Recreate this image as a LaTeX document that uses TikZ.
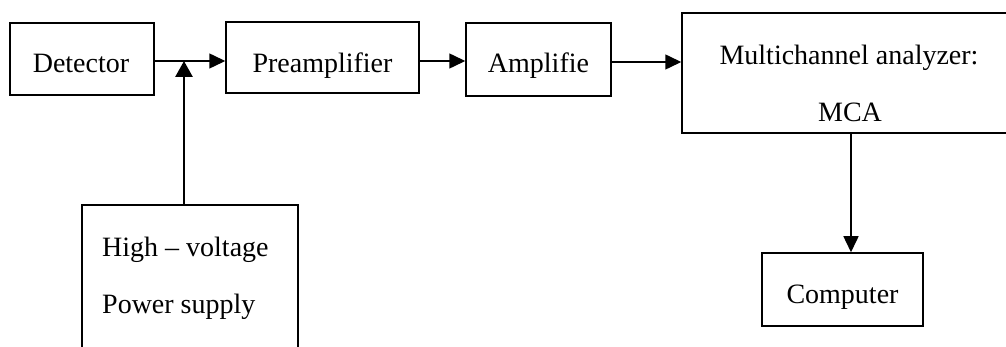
\documentclass[tikz,border=0pt]{standalone}
\usepackage{fontspec}
\setmainfont{Liberation Serif}
\usetikzlibrary{arrows.meta}
\tikzset{
  blk/.style={draw=black, line width=1.5pt, rectangle, inner sep=0pt},
  lbl/.style={anchor=base, inner sep=0pt, font=\fontsize{28}{34}\selectfont},
  lbll/.style={anchor=base west, inner sep=0pt, font=\fontsize{28}{34}\selectfont},
  arr/.style={line width=1.5pt, -{Triangle[length=16pt,width=15pt]}},
  arrthick/.style={line width=2.8pt, -{Triangle[length=16pt,width=17pt]}},
}
\begin{document}
\begin{tikzpicture}[x=1pt,y=-1pt]
\useasboundingbox[fill=white] (0,0) rectangle (1006,347);
% boxes
\node[blk, minimum width=144pt, minimum height=72pt] (det) at (82,59) {};
\node[blk, minimum width=193pt, minimum height=71pt] (pre) at (322.5,57.5) {};
\node[blk, minimum width=145pt, minimum height=73pt] (amp) at (538.5,59.5) {};
\node[blk, minimum width=336pt, minimum height=120pt] (mca) at (850,73) {};
\node[blk, minimum width=161pt, minimum height=73pt] (comp) at (842.5,289.5) {};
\node[blk, minimum width=216pt, minimum height=170pt] (hv) at (190,290) {};
% texts
\node[lbl] (tdet) at (81,73) {Detector};
\node[lbl] (tpre) at (322.5,73) {Preamplifier};
\node[lbl] (tamp) at (538.5,73) {Amplifie};
\node[lbl] (tmca1) at (849,65) {Multichannel analyzer:};
\node[lbl] (tmca2) at (850,122) {MCA};
\node[lbl] (tcomp) at (842.5,303) {Computer};
\node[lbll] (thv1) at (102,257) {High -- voltage};
\node[lbll] (thv2) at (102,313) {Power supply};
% connectors
\coordinate (j) at (184,61);
\draw[arr] (det.east |- j) -- (pre.west |- j);
\draw[arrthick] (hv.north -| j) -- (j);
\coordinate (a1) at (0,61);
\draw[arr] (pre.east |- a1) -- (amp.west |- a1);
\coordinate (a2) at (0,62);
\draw[arr] (amp.east |- a2) -- (mca.west |- a2);
\coordinate (a3) at (851,0);
\draw[arr] (mca.south -| a3) -- (comp.north -| a3);
\end{tikzpicture}
\end{document}
